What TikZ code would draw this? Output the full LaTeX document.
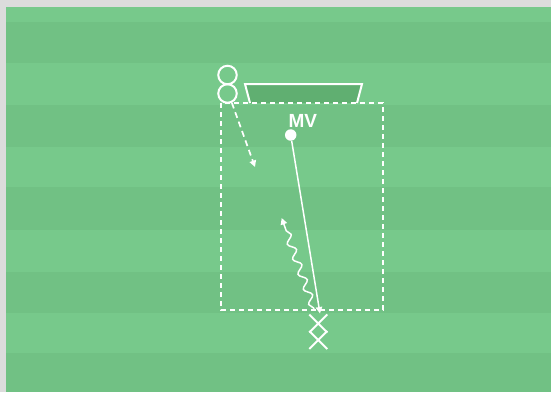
\documentclass[tikz,border=0pt]{standalone}
\usepackage{fontspec}
\setmainfont{Liberation Sans}
\usetikzlibrary{arrows.meta,decorations.pathmorphing,shapes.misc}
\definecolor{bordergray}{HTML}{DCDCDC}
\definecolor{lightgrass}{HTML}{77C98B}
\definecolor{darkgrass}{HTML}{71C184}
\definecolor{goalfill}{HTML}{60AF71}
\tikzset{
  wline/.style={draw=white, line width=1.7pt},
  player/.style={circle, draw=white, line width=2pt, minimum size=18.5pt, inner sep=0pt},
  opp/.style={cross out, draw=white, line width=2pt, minimum width=16pt, minimum height=16pt, inner sep=0pt},
  tipA/.style={-{Triangle[length=6.5pt,width=6.5pt]}},
}
\begin{document}
\begin{tikzpicture}[x=1pt,y=-1pt]
\useasboundingbox (0,0) rectangle (551,392);
\fill[bordergray] (0,0) rectangle (551,392);
\fill[lightgrass] (6,7) rectangle (551,392);
\foreach \a/\b in {22/63,105/147,187/230,272/313,353/392}
  \fill[darkgrass] (6,\a) rectangle (551,\b);
% goal
\filldraw[fill=goalfill, draw=white, line width=2pt]
  (250,103) -- (245,84) -- (362,84) -- (357,103);
% area
\draw[white, line width=1.8pt, dash pattern=on 5pt off 4pt] (221,103) rectangle (383,310);
% players
\node[player] (gk1) at (227.5,75) {};
\node[player] (gk2) at (227.5,93.5) {};
\node[circle, fill=white, minimum size=11.5pt, inner sep=0pt] (ball) at (290.7,135) {};
\node[text=white, font=\bfseries\fontsize{19}{19}\selectfont, inner sep=0pt] (mv) at (302.8,121) {MV};
\node[opp] (x1) at (318.3,323.5) {};
\node[opp] (x2) at (318.3,340) {};
\coordinate (run) at (255,167);
\coordinate (dribble) at (281.7,218);
\coordinate (wstart) at (314,309);
% movements
\draw[wline, tipA, dash pattern=on 6pt off 4pt] (gk2.-65) -- (run);
\draw[wline, line width=1.5pt, tipA] (ball) -- (320,313.5);
\draw[wline, line width=1.5pt, tipA, decorate, decoration={snake, amplitude=3.5pt, segment length=16pt, post length=6pt, pre length=1pt}] (wstart) -- (dribble);
\end{tikzpicture}
\end{document}
